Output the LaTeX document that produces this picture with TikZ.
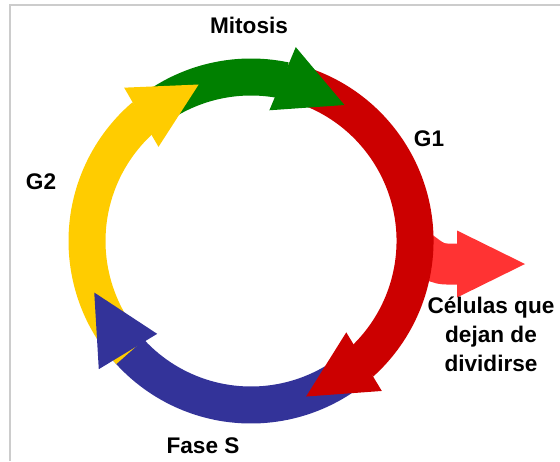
\documentclass[tikz,border=0pt]{standalone}
\usepackage{fontspec}
\setmainfont{Liberation Sans}
\definecolor{cycgreen}{RGB}{0,128,0}
\definecolor{cycred}{RGB}{204,0,0}
\definecolor{cycblue}{RGB}{51,51,153}
\definecolor{cycyellow}{RGB}{255,204,0}
\definecolor{exitred}{RGB}{255,51,51}
\definecolor{framegray}{RGB}{204,204,204}
\usetikzlibrary{arrows.meta,calc}

\begin{document}
\begin{tikzpicture}[x=0.5pt, y=0.5pt,
  band/.style={line width=18.5pt},
  phase/.style={font=\fontsize{11.3}{14.5}\selectfont\bfseries, text=black, inner sep=0pt}]
  \useasboundingbox (0,0) rectangle (560,461);
  \coordinate (cyc) at (251,220);

  % Frame
  \draw[framegray, line width=1pt] (10,0) -- (10,456) -- (560,456);

  % Exit arrow (under the G1 band)
  \coordinate (exitstart) at (410,216);
  \coordinate (exitbend) at (447,197);
  \coordinate (exittip) at (525,197);
  \draw[exitred, line width=20.5pt, -{Triangle[length=34pt, width=33.5pt, line width=0pt]}]
    (exitstart) to[out=-25, in=180] (exitbend) -- (exittip);

  % Bands: Mitosis, G1, Fase S, G2
  \draw[band, cycgreen] ($(cyc)+(130.5:164)$) arc[start angle=130.5, end angle=78, radius=164];
  \draw[band, cycred] ($(cyc)+(78:164)$) arc[start angle=78, end angle=-48, radius=164];
  \draw[band, cycblue] ($(cyc)+(-48:164)$) arc[start angle=-48, end angle=-139, radius=164];
  \draw[band, cycyellow] ($(cyc)+(222.5:164)$) arc[start angle=222.5, end angle=130.5, radius=164];

  % Heads
  \fill[cycgreen] ($(cyc)+(77:199)$) -- ($(cyc)+(55.5:165)$) -- ($(cyc)+(82:132)$) -- cycle;
  \fill[cycred] ($(cyc)+(-48.9:199)$) -- ($(cyc)+(-70.5:165)$) -- ($(cyc)+(-43.8:132)$) -- cycle;
  \fill[cycblue] ($(cyc)+(220.1:199)$) -- ($(cyc)+(198.2:165)$) -- ($(cyc)+(224.7:132)$) -- cycle;
  \fill[cycyellow] ($(cyc)+(129.6:199)$) -- ($(cyc)+(108.5:165)$) -- ($(cyc)+(134.5:132)$) -- cycle;

  % Labels
  \node[phase] (mitosis) at (249,436) {Mitosis};
  \node[phase] (gone) at (429,322) {G1};
  \node[phase] (gtwo) at (41,279) {G2};
  \node[phase] (fases) at (203,15.5) {Fase S};
  \node[phase, align=center] (salida) at (491,126.5) {Células que\\dejan de\\dividirse};
\end{tikzpicture}
\end{document}
